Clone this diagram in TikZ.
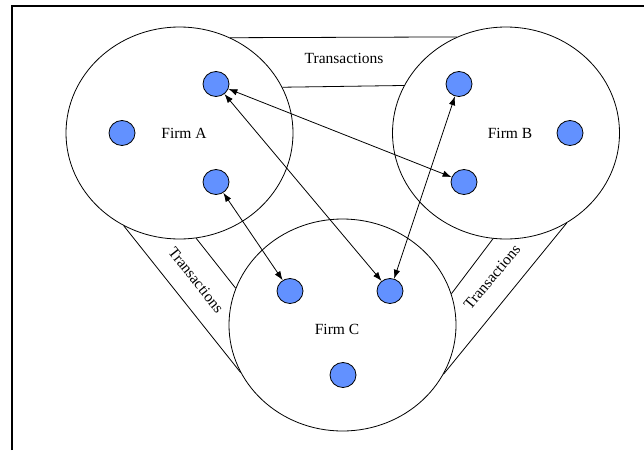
\documentclass[tikz,border=0pt]{standalone}
\usepackage{fontspec}
\setmainfont{Liberation Serif}
\usetikzlibrary{shapes.geometric,arrows.meta}
\definecolor{agentblue}{RGB}{98,145,255}
\begin{document}
\begin{tikzpicture}[x=1pt,y=-1pt,
  firm/.style={draw,ellipse,line width=0.8pt,minimum width=227pt,minimum height=212pt,inner sep=0pt},
  agent/.style={draw,ellipse,fill=agentblue,line width=0.8pt,minimum width=26pt,minimum height=25pt,inner sep=0pt},
  link/.style={line width=0.8pt,{Latex[length=9pt,width=6.5pt]}-{Latex[length=9pt,width=6.5pt]}},
  band/.style={line width=0.8pt},
  lbl/.style={font=\fontsize{15.5}{18}\selectfont,inner sep=0pt}]
\useasboundingbox (0,0) rectangle (644,450);

% frame (left and top edges)
\draw[line width=2pt] (12,450) -- (12,6) -- (644,6);

% firms
\node[firm] (A) at (179.5,133) {};
\node[firm] (B) at (506,133) {};
\node[firm] (C) at (342.5,325) {};
\node[lbl] (la) at (184,133) {Firm A};
\node[lbl] (lb) at (510,133) {Firm B};
\node[lbl] (lc) at (337,329) {Firm C};

% transaction bands between firms
\draw[band] (A.62.7) -- (B.117.3);
\draw[band] (A.24.2) -- (B.155.8);
\node[lbl] (tab) at (344,58) {Transactions};

\draw[band] (A.239.4) -- (C.205.1);
\draw[band] (A.279.4) -- (C.161.3);
\node[lbl,rotate=-51.5] (tac) at (196,280) {Transactions};

\draw[band] (B.304) -- (C.334.7);
\draw[band] (B.263.5) -- (C.16.4);
\node[lbl,rotate=50] (tbc) at (492,277) {Transactions};

% agents
\node[agent] (a1) at (216,84) {};
\node[agent] (a2) at (122,133) {};
\node[agent] (a3) at (216,182) {};
\node[agent] (b1) at (459,84) {};
\node[agent] (b2) at (570,133) {};
\node[agent] (b3) at (464,182) {};
\node[agent] (c1) at (290,291) {};
\node[agent] (c2) at (390,291) {};
\node[agent] (c3) at (343,375) {};

% interactions across firms
\draw[link] (a1) -- (b3);
\draw[link] (a1) -- (c2);
\draw[link] (a3) -- (c1);
\draw[link] (b1) -- (c2);
\end{tikzpicture}
\end{document}
